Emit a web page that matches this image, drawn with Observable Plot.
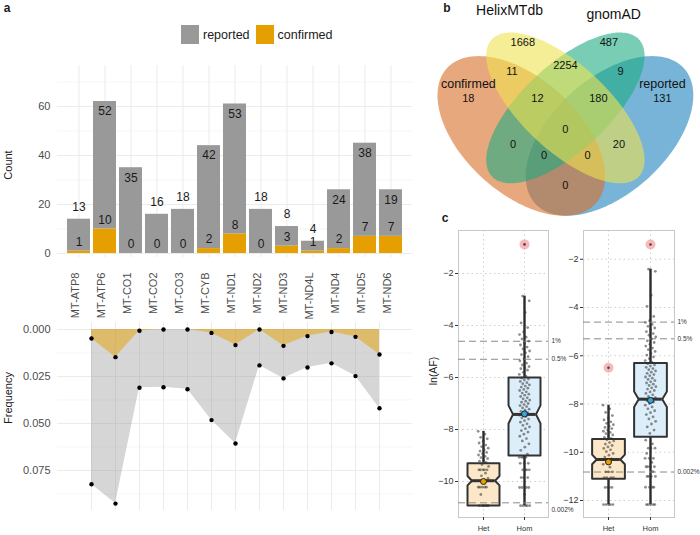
<!DOCTYPE html>
<html><head><meta charset="utf-8">
<script src="https://cdn.jsdelivr.net/npm/d3@7"></script>
<script src="https://cdn.jsdelivr.net/npm/@observablehq/plot@0.6"></script>
<style>
body{margin:0;background:#fff;font-family:"Liberation Sans",Arial,sans-serif;}
#root{position:relative;width:700px;height:535px;overflow:hidden;background:#fff;}
.abs{position:absolute;}
.lbl{position:absolute;white-space:nowrap;transform:translate(-50%,-50%);color:#1a1a1a;}
#legend div,#legend span{font-size:12.5px !important;font-family:"Liberation Sans",Arial,sans-serif !important;color:#1a1a1a;}
#legend span{margin-right:6px !important;}
#legend svg{margin-right:4px !important;}
</style></head><body><div id="root"></div>
<script>
// ---------- panel a data ----------
const genes = ["MT-ATP8","MT-ATP6","MT-CO1","MT-CO2","MT-CO3","MT-CYB","MT-ND1","MT-ND2","MT-ND3","MT-ND4L","MT-ND4","MT-ND5","MT-ND6"];
const reported = [13,52,35,16,18,42,53,18,8,4,24,38,19];
const confirmed = [1,10,0,0,0,2,8,0,3,1,2,7,7];
const freqReported = [0.0823,0.0926,0.0310,0.0307,0.0318,0.0482,0.0606,0.0191,0.0260,0.0202,0.0180,0.0248,0.0419];
const freqConfirmed = [0.0048,0.0147,0.0007,0.0000,0.0000,0.0018,0.0083,0.0000,0.0087,0.0035,0.0013,0.0039,0.0133];
const countTicks = [0,20,40,60];
const countMinorTicks = [10,30,50,70];
const freqTicks = [0,0.025,0.05,0.075];
const freqMinorTicks = [0.0125,0.0375,0.0625,0.0875];
const seriesNames = ["reported","confirmed"];
const seriesColors = ["#999999","#E69F00"];

// ---------- panel b data ----------
const vennSets = ["confirmed","HelixMTdb","gnomAD","reported"];
const vennSetColors = ["#D96E26","#EEE350","#1EAC82","#1E82BC"];
const vennRegionKeys = ["C","H","G","R","CH","HG","GR","CHG","HGR","CHGR","CG","HR","CGR","CHR","CR"];
const vennRegionCounts = [18,1668,487,131,11,2254,9,12,180,0,0,20,0,0,0];

// ---------- panel c data ----------
const afGroups = ["Het","Hom"];
const afThresholdValues = [0.01,0.005,0.00002];
const afThresholdLabels = ["1%","0.5%","0.002%"];
const boxLeft = [
  {group:"Het", low:-10.93, q1:-10.92, med:-9.97, q3:-9.30, high:-8.07, notch:0.18, mean:-10.0},
  {group:"Hom", low:-10.93, q1:-9.00, med:-7.42, q3:-6.00, high:-2.87, notch:0.35, mean:-7.40}
];
const outliersLeft = [{group:"Hom", value:-0.88}];
const pointsLeftHet = [-8.07,-8.18,-8.3,-8.36,-8.45,-8.52,-8.6,-8.66,-8.72,-8.78,-8.83,-8.88,-8.93,-8.98,-9.03,-9.08,-9.12,-9.18,-9.22,-9.27,-9.35,-9.42,-9.55,-9.55,-9.55,-9.55,-9.55,-9.68,-9.78,-9.88,-10.05,-10.22,-10.22,-10.22,-10.22,-10.22,-10.5,-10.93,-10.93,-10.93,-10.93,-10.93,-10.93,-10.93];
const pointsLeftHom = [-2.87,-3.05,-3.5,-3.9,-4.08,-4.25,-4.35,-4.45,-4.52,-4.6,-4.68,-4.75,-4.83,-4.9,-4.98,-5.05,-5.12,-5.2,-5.28,-5.36,-5.45,-5.52,-5.58,-5.63,-5.66,-5.72,-5.8,-5.88,-5.95,
  -6.02,-6.06,-6.1,-6.15,-6.2,-6.24,-6.28,-6.33,-6.37,-6.41,-6.46,-6.5,-6.55,-6.6,-6.64,-6.68,-6.73,-6.78,-6.82,-6.87,-6.91,-6.95,-7.0,-7.04,-7.08,-7.12,-7.17,-7.22,-7.26,-7.3,-7.35,-7.4,-7.45,-7.5,-7.55,-7.6,-7.66,-7.72,-7.78,-7.84,-7.9,-7.97,-8.04,-8.1,-8.18,-8.26,-8.35,-8.44,-8.55,-8.68,-8.8,-8.95,
  -9.07,-9.07,-9.07,-9.07,-9.3,-9.3,-9.3,-9.55,-9.55,-9.55,-9.55,-9.85,-9.85,-9.85,-10.23,-10.23,-10.23,-10.23,-10.5,-10.93,-10.93,-10.93,-10.93,-10.93];
const boxRight = [
  {group:"Het", low:-12.17, q1:-11.10, med:-10.30, q3:-9.45, high:-8.05, notch:0.20, mean:-10.40},
  {group:"Hom", low:-12.17, q1:-9.36, med:-7.80, q3:-6.30, high:-2.41, notch:0.32, mean:-7.85}
];
const outliersRight = [{group:"Het", value:-6.5},{group:"Hom", value:-1.39}];
const pointsRightHet = [-8.05,-8.2,-8.35,-8.48,-8.58,-8.66,-8.74,-8.8,-8.86,-8.92,-8.97,-9.02,-9.08,-9.13,-9.18,-9.23,-9.28,-9.33,-9.38,-9.43,-9.48,-9.53,-9.6,-9.66,-9.72,-9.78,-9.84,-9.9,-9.97,-10.05,-10.12,-10.2,-10.28,-10.4,-10.5,-10.62,-10.81,-10.81,-10.81,-11.05,-11.05,-11.05,-11.05,-11.46,-11.46,-11.46,-11.46,-12.17,-12.17,-12.17,-12.17,-12.17];
const pointsRightHom = [-2.41,-2.5,-3.49,-3.95,-4.37,-4.55,-4.62,-4.7,-4.78,-4.85,-4.92,-5.0,-5.08,-5.15,-5.22,-5.3,-5.38,-5.45,-5.52,-5.6,-5.68,-5.75,-5.82,-5.9,-5.97,-6.05,-6.12,-6.2,-6.27,
  -6.33,-6.38,-6.43,-6.48,-6.53,-6.58,-6.63,-6.68,-6.73,-6.78,-6.83,-6.88,-6.93,-6.98,-7.03,-7.08,-7.13,-7.18,-7.23,-7.28,-7.33,-7.38,-7.44,-7.5,-7.56,-7.62,-7.68,-7.74,-7.8,-7.86,-7.92,-7.98,-8.05,-8.12,-8.2,-8.28,-8.36,-8.44,-8.53,-8.62,-8.72,-8.83,-8.95,-9.08,-9.22,
  -9.5,-9.65,-9.83,-9.83,-9.83,-10.05,-10.25,-10.25,-10.25,-10.42,-10.6,-10.6,-10.6,-10.6,-10.8,-11.0,-11.0,-11.0,-11.0,-11.45,-11.45,-11.45,-11.45,-12.17,-12.17,-12.17,-12.17,-12.17];

// ---------- layout helpers ----------
const FONT = '"Liberation Sans",Arial,sans-serif';
const root = document.getElementById("root");
function place(el, left, top){
  const w = document.createElement("div");
  w.className = "abs"; w.style.left = left+"px"; w.style.top = top+"px";
  w.appendChild(el); root.appendChild(w); return w;
}
function label(text, x, y, size, opts={}){
  const d = document.createElement("div");
  d.className = "lbl"; d.textContent = text;
  d.style.left = x+"px"; d.style.top = y+"px"; d.style.fontSize = size+"px";
  if (opts.bold) d.style.fontWeight = "bold";
  if (opts.rotate) d.style.transform = "translate(-50%,-50%) rotate(-90deg)";
  if (opts.color) d.style.color = opts.color;
  root.appendChild(d); return d;
}
const baseStyle = (color) => ({background:"transparent", maxWidth:"none", overflow:"visible", fontFamily:FONT, color});

// ---------- panel a: stacked bars ----------
const barRows = [];
genes.forEach((g,i)=>{
  barRows.push({gene:g, series:"confirmed", value:confirmed[i]});
  barRows.push({gene:g, series:"reported", value:reported[i]});
});
const totals = genes.map((g,i)=>({gene:g, total:reported[i]+confirmed[i], rep:reported[i], conf:confirmed[i]}));
const gridStyle = {stroke:"#ebebeb", strokeOpacity:1, strokeWidth:1};
const barPlot = Plot.plot({
  width:415, height:320, marginLeft:57, marginRight:3, marginTop:65, marginBottom:63,
  style: baseStyle("#4d4d4d"),
  x:{type:"band", domain:genes, range:[59.5,409.5], paddingInner:0.1, paddingOuter:0.05, label:null, axis:null},
  y:{domain:[0,76.7], range:[253,65], label:null},
  color:{domain:seriesNames, range:seriesColors},
  marks:[
    Plot.gridY(countMinorTicks, {stroke:"#f0f0f0", strokeOpacity:1, strokeWidth:0.6}),
    Plot.gridY(countTicks, gridStyle),
    Plot.gridX(genes, gridStyle),
    Plot.barY(barRows, {x:"gene", y:"value", fill:"series", order:["confirmed","reported"]}),
    Plot.text(totals.filter(d=>d.total<20), {x:"gene", y:"total", text:d=>String(d.rep), dy:-12, fontSize:12, fill:"#1a1a1a"}),
    Plot.text(totals.filter(d=>d.total>=20), {x:"gene", y:"total", text:d=>String(d.rep), dy:10, fontSize:12, fill:"#1a1a1a"}),
    Plot.text(totals, {x:"gene", y:"conf", text:d=>String(d.conf), dy:-9, fontSize:12, fill:"#1a1a1a"}),
    Plot.axisY(countTicks, {tickSize:0, tickPadding:7, fontSize:11, label:null}),
    Plot.text(genes, {x:d=>d, frameAnchor:"bottom", dy:15, rotate:-90, textAnchor:"end", fontSize:11, fill:"#4d4d4d"})
  ]
});
place(barPlot, 0, 0);

// legend
const leg = Plot.legend({color:{type:"ordinal", domain:seriesNames, range:seriesColors}, swatchWidth:18, swatchHeight:19});
const legWrap = place(leg, 181, 18);
legWrap.id = "legend";

// ---------- panel a: frequency areas ----------
const freqRows = genes.map((g,i)=>({gene:g, rep:freqReported[i], conf:freqConfirmed[i]}));
const freqPlot = Plot.plot({
  width:415, height:200, marginLeft:57, marginRight:3, marginTop:4, marginBottom:8,
  style: baseStyle("#4d4d4d"),
  x:{type:"point", domain:genes, range:[73,396], label:null, axis:null},
  y:{domain:[0,0.075], range:[11,152], label:null},
  marks:[
    Plot.gridY(freqMinorTicks, {stroke:"#f0f0f0", strokeOpacity:1, strokeWidth:0.6}),
    Plot.gridY(freqTicks, gridStyle),
    Plot.gridX(genes, gridStyle),
    Plot.areaY(freqRows, {x:"gene", y1:0, y2:"rep", fill:"#999999", fillOpacity:0.4}),
    Plot.areaY(freqRows, {x:"gene", y1:0, y2:"conf", fill:"#E69F00", fillOpacity:0.5}),
    Plot.dot(freqRows, {x:"gene", y:"rep", r:2.2, fill:"#000"}),
    Plot.dot(freqRows, {x:"gene", y:"conf", r:2.2, fill:"#000"}),
    Plot.axisY(freqTicks, {tickFormat:d3.format(".3f"), tickSize:0, tickPadding:7, fontSize:11, label:null})
  ]
});
place(freqPlot, 0, 318);

label("Count", 8, 165, 11, {rotate:true});
label("Frequency", 8, 398, 11, {rotate:true});
label("a", 7, 8, 12, {bold:true});

// ---------- panel b: Venn ----------
const vennEllipses = [
  {cx:0.35, cy:0.47, a:0.35, b:0.20, rot:135},
  {cx:0.50, cy:0.57, a:0.35, b:0.15, rot:135},
  {cx:0.50, cy:0.57, a:0.35, b:0.15, rot:45},
  {cx:0.65, cy:0.47, a:0.35, b:0.20, rot:45}
];
const vennDrawOrder = [3,0,2,1];
const vennLabelPos = {C:[0.17,0.603], H:[0.355,0.803], G:[0.648,0.803], R:[0.83,0.603], CH:[0.318,0.70], HG:[0.5,0.721], GR:[0.688,0.70],
  CHG:[0.405,0.603], HGR:[0.612,0.603], CHGR:[0.5,0.493], CG:[0.322,0.439], HR:[0.682,0.439], CGR:[0.427,0.40], CHR:[0.575,0.40], CR:[0.5,0.293]};
const vennSetLabelPos = [[0.17,0.655],[0.31,0.918],[0.664,0.905],[0.83,0.655]];
const vennSetLabelSize = [12.5,14,14,12.5];
function ellipsePoints(e, n=180){
  const t = e.rot*Math.PI/180;
  return d3.range(n).map(k=>{
    const a = 2*Math.PI*k/n, ex = e.a*Math.cos(a), ey = e.b*Math.sin(a);
    return {x:e.cx + ex*Math.cos(t) - ey*Math.sin(t), y:e.cy + ex*Math.sin(t) + ey*Math.cos(t)};
  });
}
const regionRows = vennRegionKeys.map((k,i)=>({x:vennLabelPos[k][0], y:vennLabelPos[k][1], n:vennRegionCounts[i]}));
const setRows = vennSets.map((s,i)=>({x:vennSetLabelPos[i][0], y:vennSetLabelPos[i][1], name:s, size:vennSetLabelSize[i]}));
const vennPlot = Plot.plot({
  width:320, height:270, margin:0,
  style: baseStyle("#000"),
  x:{domain:[0,1], range:[37.9,331.9], axis:null},
  y:{domain:[0,1], range:[267,-13], axis:null},
  marks:[
    ...vennDrawOrder.map(k=>Plot.line(ellipsePoints(vennEllipses[k]), {x:"x", y:"y", curve:"linear-closed", fill:vennSetColors[k], fillOpacity:0.6, stroke:"none"})),
    Plot.text(regionRows, {x:"x", y:"y", text:d=>String(d.n), fontSize:11, fill:"#111"}),
    Plot.text(setRows.filter(d=>d.size<13), {x:"x", y:"y", text:"name", fontSize:12.5, fill:"#111"}),
    Plot.text(setRows.filter(d=>d.size>=13), {x:"x", y:"y", text:"name", fontSize:14, fill:"#111"})
  ]
});
place(vennPlot, 380, 0);
label("b", 447, 8, 12, {bold:true});

// ---------- panel c: notched boxplots ----------
function jitter(i){ return (((i*0.6180339887) % 1) - 0.5) * 0.26; }
function afPanel({boxes, outliers, het, hom, xRange, yDomain, yRange, yTicks, width, marginRight, thrDy}){
  const w = 0.39, nw = 0.72;
  const boxColors = ["#FCE8C8","#DCEEFA"];
  const meanColors = ["#E69F00","#3BA3DC"];
  const polys = boxes.map((b,k)=>{
    const x = k+1, m = b.med;
    return [[x-w,b.q3],[x-w,m+b.notch],[x-w*nw,m],[x-w,m-b.notch],[x-w,b.q1],[x+w,b.q1],[x+w,m-b.notch],[x+w*nw,m],[x+w,m+b.notch],[x+w,b.q3]]
      .map(([px,py])=>({x:px, y:py}));
  });
  const pts = [...het.map((v,i)=>({x:1+jitter(i), y:v})), ...hom.map((v,i)=>({x:2+jitter(i+7), y:v}))];
  const outs = outliers.map(o=>({x:afGroups.indexOf(o.group)+1, y:o.value}));
  const thr = afThresholdValues.map((v,i)=>({y:Math.log(v), label:afThresholdLabels[i], dy:thrDy[i]}));
  const grid = {stroke:"#cfcfcf", strokeOpacity:1, strokeDasharray:"1.5,3"};
  return Plot.plot({
    width, height:310, marginLeft:38, marginRight, marginTop:5, marginBottom:18,
    style: baseStyle("#333"),
    x:{domain:[1,2], range:xRange, label:null},
    y:{domain:yDomain, range:yRange, label:null},
    marks:[
      Plot.gridY(yTicks, grid),
      Plot.gridX([1,2], grid),
      Plot.frame({stroke:"#c8c8c8"}),
      Plot.ruleX(boxes, {x:(d,i)=>i+1, y1:"q3", y2:"high", stroke:"#2b2b2b", strokeWidth:2.4}),
      Plot.ruleX(boxes, {x:(d,i)=>i+1, y1:"q1", y2:"low", stroke:"#2b2b2b", strokeWidth:2.4}),
      ...polys.map((p,k)=>Plot.line(p, {x:"x", y:"y", curve:"linear-closed", fill:boxColors[k], stroke:"#333", strokeWidth:2})),
      Plot.ruleY(thr, {y:"y", stroke:"#8a8a8a", strokeDasharray:"7,4", strokeWidth:1}),
      Plot.dot(pts, {x:"x", y:"y", r:1.4, fill:"#333", fillOpacity:0.55}),
      Plot.ruleY(boxes, {y:"med", x1:(d,i)=>i+1-w*nw, x2:(d,i)=>i+1+w*nw, stroke:"#333", strokeWidth:3}),
      Plot.dot(boxes, {x:(d,i)=>i+1, y:"mean", r:3, fill:(d,i)=>meanColors[i], stroke:"#222", strokeWidth:1}),
      Plot.dot(outs, {x:"x", y:"y", r:5, fill:"#F08080", fillOpacity:0.55}),
      Plot.dot(outs, {x:"x", y:"y", r:1.3, fill:"#444"}),
      ...thr.map(t=>Plot.text([t], {y:"y", text:"label", frameAnchor:"right", dx:3, dy:t.dy, textAnchor:"start", fontSize:6.5, fill:"#333"})),
      Plot.axisY(yTicks, {tickSize:3, tickPadding:2, fontSize:9, label:null}),
      Plot.axisX([1,2], {tickFormat:d=>afGroups[d-1], tickSize:3, tickPadding:5, fontSize:7.5, label:null})
    ]
  });
}
const leftBox = afPanel({boxes:boxLeft, outliers:outliersLeft, het:pointsLeftHet, hom:pointsLeftHom,
  xRange:[63,104], yDomain:[-10,-2], yRange:[256,48], yTicks:[-10,-8,-6,-4,-2], width:160, marginRight:32, thrDy:[0,0,7]});
place(leftBox, 420, 225);
const rightBox = afPanel({boxes:boxRight, outliers:outliersRight, het:pointsRightHet, hom:pointsRightHom,
  xRange:[63,105], yDomain:[-12,-4], yRange:[275,82], yTicks:[-12,-10,-8,-6,-4,-2], width:155, marginRight:26, thrDy:[0,0,0]});
place(rightBox, 545, 225);
label("ln(AF)", 433, 371, 10.5, {rotate:true});
label("c", 445, 218, 12, {bold:true});
</script></body></html>
